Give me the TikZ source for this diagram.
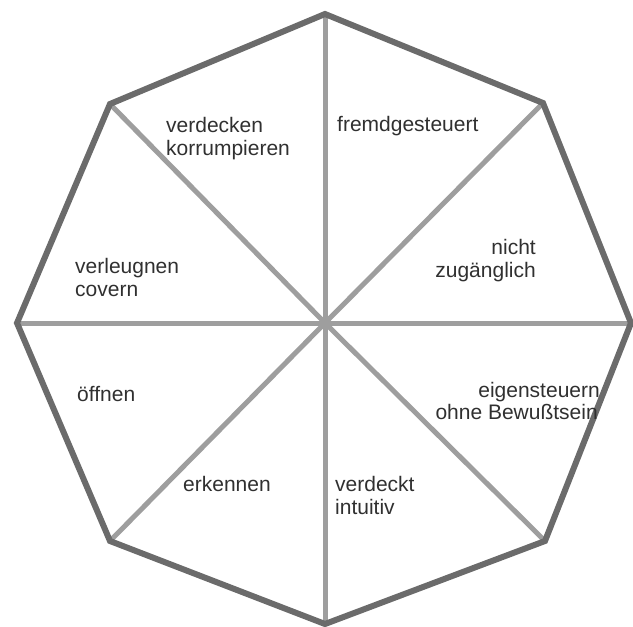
\documentclass[tikz,border=0pt]{standalone}
\usepackage{fontspec}
\setmainfont{Liberation Sans}
\definecolor{rimgray}{HTML}{6B6B6B}
\definecolor{spokegray}{HTML}{9E9E9E}
\definecolor{txtgray}{HTML}{303030}
\begin{document}
\begin{tikzpicture}[x=1pt,y=-1pt,
  rim/.style={draw=rimgray,line width=6pt,line join=miter},
  spoke/.style={draw=spokegray,line width=5pt},
  lbl/.style={inner sep=0pt,text=txtgray,font=\fontsize{21pt}{23pt}\selectfont}]
\useasboundingbox (0,0) rectangle (633,627);
\coordinate (c) at (325,323);
\coordinate (t) at (325,14);
\coordinate (tr) at (543,103);
\coordinate (r) at (631,323);
\coordinate (br) at (545,541);
\coordinate (b) at (325,624);
\coordinate (bl) at (110,541);
\coordinate (l) at (17,323);
\coordinate (tl) at (110,104);
\foreach \p in {t,tr,r,br,b,bl,l,tl} \draw[spoke] (c) -- (\p);
\draw[rim] (t) -- (tr) -- (r) -- (br) -- (b) -- (bl) -- (l) -- (tl) -- cycle;
\node[lbl,anchor=base west] (a1) at (166,132) {verdecken};
\node[lbl,anchor=base west] (a2) at (166,155) {korrumpieren};
\node[lbl,anchor=base west] (f1) at (337,131) {fremdgesteuert};
\node[lbl,anchor=base east] (n1) at (536,254) {nicht};
\node[lbl,anchor=base east] (n2) at (536,277) {zugänglich};
\node[lbl,anchor=base west] (v1) at (75,273) {verleugnen};
\node[lbl,anchor=base west] (v2) at (75,296) {covern};
\node[lbl,anchor=base west] (o1) at (77,401) {öffnen};
\node[lbl,anchor=base east] (e1) at (600,397) {eigensteuern};
\node[lbl,anchor=base east] (e2) at (598,419) {ohne Bewußtsein};
\node[lbl,anchor=base west] (k1) at (183,491) {erkennen};
\node[lbl,anchor=base west] (d1) at (335,491) {verdeckt};
\node[lbl,anchor=base west] (d2) at (335,514) {intuitiv};
\end{tikzpicture}
\end{document}
